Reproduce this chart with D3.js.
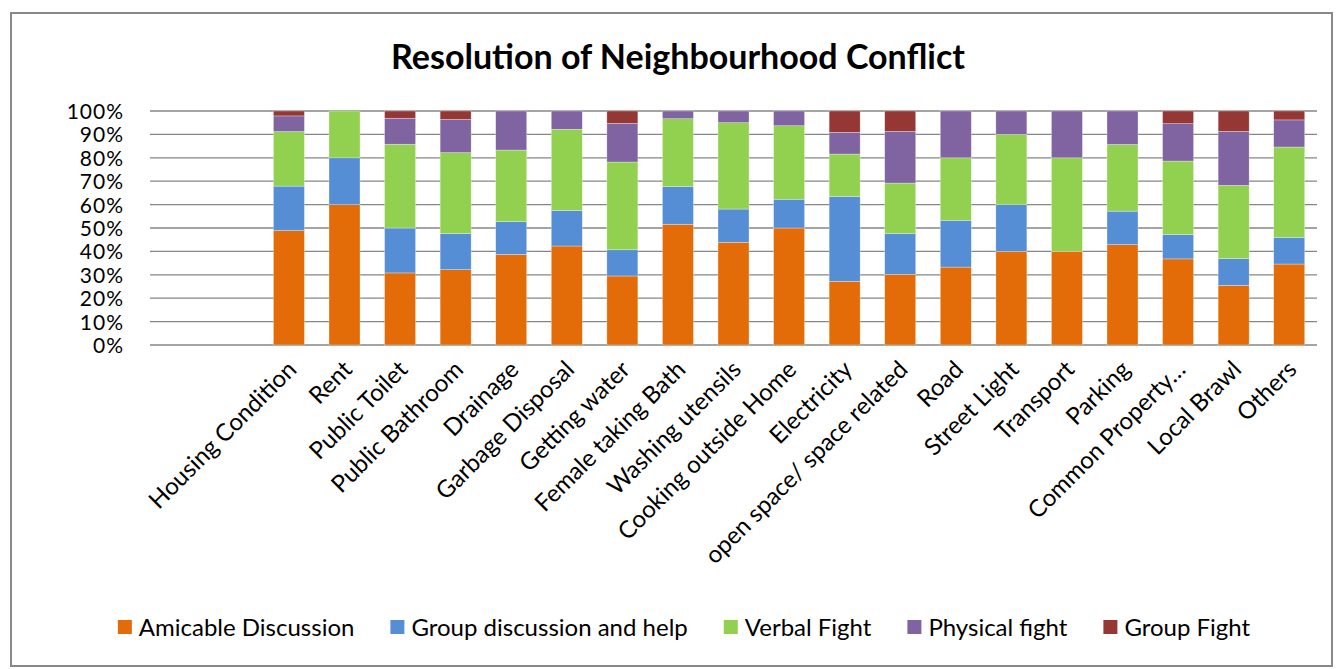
<!DOCTYPE html>
<html>
<head>
<meta charset="utf-8">
<script src="https://cdn.jsdelivr.net/npm/d3@7"></script>
<style>
  html, body { margin: 0; padding: 0; background: #fff; }
  svg { display: block; font-family: Lato, "Open Sans", sans-serif; }
</style>
</head>
<body>
<svg id="chart" width="1337" height="669"></svg>
<script>
// Two leading category slots are blank in the source sheet.
const categories = ["", "", "Housing Condition", "Rent", "Public Toilet", "Public Bathroom", "Drainage",
  "Garbage Disposal", "Getting water", "Female taking Bath", "Washing utensils",
  "Cooking outside Home", "Electricity", "open space/ space related", "Road", "Street Light",
  "Transport", "Parking", "Common Property…", "Local Brawl", "Others"];

const seriesNames = ["Amicable Discussion", "Group discussion and help", "Verbal Fight", "Physical fight", "Group Fight"];

// Share of responses (%) per category, one array per resolution type.
const amicable     = [0, 0, 48.9, 60, 30.8, 32.2, 38.7, 42.3, 29.5, 51.6, 43.9, 50.0, 27.2, 30.2, 33.3, 40, 40, 42.9, 36.8, 25.5, 34.6];
const groupHelp    = [0, 0, 19.0, 20, 19.2, 15.4, 14.0, 15.2, 11.2, 16.1, 14.2, 12.3, 36.3, 17.4, 20.0, 20,  0, 14.3, 10.4, 11.4, 11.4];
const verbalFight  = [0, 0, 23.3, 20, 35.8, 34.6, 30.6, 34.7, 37.5, 29.0, 36.9, 31.4, 18.1, 21.6, 26.7, 30, 40, 28.5, 31.4, 31.3, 38.6];
const physical     = [0, 0,  6.7,  0, 11.1, 14.2, 16.7,  7.8, 16.5,  3.3,  5.0,  6.3,  9.3, 22.1, 20.0, 10, 20, 14.3, 16.0, 23.1, 11.6];
const groupFight   = [0, 0,  2.1,  0,  3.1,  3.6,  0,    0,    5.3,  0,    0,    0,    9.1,  8.7,  0,    0,  0,  0,    5.4,  8.7,  3.8];

const yTickLabels = ["0%", "10%", "20%", "30%", "40%", "50%", "60%", "70%", "80%", "90%", "100%"];

const colors = ["#E36C09", "#558ED5", "#92D050", "#8064A2", "#953735"];

const seriesValues = [amicable, groupHelp, verbalFight, physical, groupFight];
const rows = categories.map((c, i) => {
  const r = { idx: i, label: c };
  seriesNames.forEach((s, k) => { r[s] = seriesValues[k][i]; });
  return r;
});

const svg = d3.select("#chart");

// Chart frame
svg.append("rect")
  .attr("x", 11).attr("y", 13).attr("width", 1321).attr("height", 653)
  .attr("fill", "#fff").attr("stroke", "#888").attr("stroke-width", 2);

// Title
svg.append("text")
  .attr("x", 678).attr("y", 69)
  .attr("text-anchor", "middle")
  .attr("font-weight", "bold")
  .attr("font-size", 34)
  .attr("fill", "#000")
  .text("Resolution of Neighbourhood Conflict");

const plot = { left: 150, right: 1317, top: 111, bottom: 345 };

const x = d3.scaleBand()
  .domain(rows.map(r => r.idx))
  .range([plot.left, plot.right])
  .paddingInner(0.442)
  .paddingOuter(0.221);

const y = d3.scaleLinear().domain([0, 1]).range([plot.bottom, plot.top]);

// Gridlines
const yTicks = d3.range(0, 1.0001, 0.1);
svg.append("g")
  .selectAll("line")
  .data(yTicks)
  .join("line")
  .attr("x1", plot.left).attr("x2", plot.right)
  .attr("y1", d => y(d)).attr("y2", d => y(d))
  .attr("stroke", "#868686").attr("stroke-width", 1.3);

// Y axis labels
const yAxis = d3.axisLeft(y)
  .tickValues(yTicks)
  .tickSize(0)
  .tickPadding(0)
  .tickFormat((d, i) => yTickLabels[i]);
const gy = svg.append("g")
  .attr("transform", `translate(${plot.left - 26},0)`)
  .call(yAxis);
gy.select(".domain").remove();
gy.selectAll("text")
  .attr("font-family", "Lato, 'Open Sans', sans-serif")
  .attr("font-size", 21)
  .attr("letter-spacing", 1)
  .attr("fill", "#000")
  .attr("dy", "0.36em");

// Stacked 100% bars
const stack = d3.stack().keys(seriesNames).offset(d3.stackOffsetExpand);
const stacked = stack(rows);

svg.append("g")
  .selectAll("g")
  .data(stacked)
  .join("g")
  .attr("fill", (d, i) => colors[i])
  .selectAll("rect")
  .data(d => d)
  .join("rect")
  .attr("x", d => x(d.data.idx))
  .attr("width", x.bandwidth())
  .attr("y", d => y(d[1]))
  .attr("height", d => Math.max(0, y(d[0]) - y(d[1])))
  .attr("stroke", "#ffffff")
  .attr("stroke-opacity", 0.5)
  .attr("stroke-width", 0.6);

// X axis
const xAxis = d3.axisBottom(x)
  .tickSize(0)
  .tickPadding(0)
  .tickFormat(i => categories[i]);
const gx = svg.append("g")
  .attr("transform", `translate(0,${plot.bottom})`)
  .call(xAxis);
gx.select(".domain").remove();
gx.selectAll("text")
  .attr("font-family", "Lato, 'Open Sans', sans-serif")
  .attr("font-size", 24)
  .attr("fill", "#000")
  .attr("text-anchor", "end")
  .attr("dy", null)
  .attr("y", 0)
  .attr("transform", "translate(9,26) rotate(-45)");

// Legend
const legend = svg.append("g").attr("transform", "translate(0,627)");
const items = legend.selectAll("g")
  .data(seriesNames)
  .join("g");
items.append("rect")
  .attr("width", 14).attr("height", 14)
  .attr("y", -7)
  .attr("fill", (d, i) => colors[i]);
items.append("text")
  .attr("x", 21)
  .attr("dy", "0.36em")
  .attr("font-size", 24)
  .attr("fill", "#000")
  .text(d => d);
let cursor = 0;
const widths = [];
items.each(function () {
  const w = 21 + this.querySelector("text").getComputedTextLength();
  widths.push(w);
});
const gap = 36;
const total = d3.sum(widths) + gap * (widths.length - 1);
cursor = 684 - total / 2;
items.attr("transform", (d, i) => {
  const t = `translate(${cursor},0)`;
  cursor += widths[i] + gap;
  return t;
});
</script>
</body>
</html>
